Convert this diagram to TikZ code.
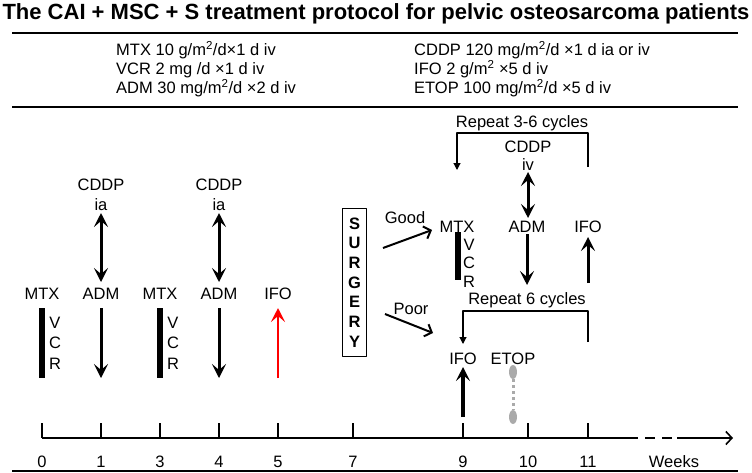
\documentclass[tikz,border=0pt]{standalone}
\usepackage{fontspec}
\setmainfont{Liberation Sans}
\usetikzlibrary{arrows.meta,positioning,shapes.geometric}
\definecolor{etopgray}{RGB}{170,170,170}
\tikzset{
  bigtip/.tip={Stealth[length=14pt,width=14pt,inset=6pt]},
  smalltip/.tip={Triangle[length=7pt,width=7pt]},
  opentip/.tip={Straight Barb[length=6pt,width=13pt]},
  rule/.style={line width=2pt},
  axisline/.style={line width=1.6pt},
  drug/.style={line width=3pt,-bigtip},
  twoway/.style={line width=3pt,bigtip-bigtip},
  vcrbar/.style={line width=6pt,line cap=butt},
  cycle/.style={line width=1.1pt,-smalltip},
  choice/.style={line width=2pt,-opentip},
  lbl/.style={inner sep=0pt},
}
\begin{document}
\begin{tikzpicture}[x=1pt,y=-1pt,line join=round,font=\fontsize{16.5}{19}\selectfont]
		\useasboundingbox (0,0) rectangle (752,472);
		\def\ya{294}
		\def\yb{227}
		% title and rules
		\node[lbl,font=\bfseries\fontsize{22}{26}\selectfont] (title) at (376,14) {The CAI + MSC + S treatment protocol for pelvic osteosarcoma patients};
		\draw[rule] (12,33) -- (738,33);
		\draw[rule] (12,107) -- (738,107);
		\draw[rule] (12,471) -- (738,471);
		\node[lbl,anchor=west,align=left] (doseL) at (116,69) {MTX 10 g/m\textsuperscript{2}/d×1 d iv\\VCR 2 mg /d ×1 d iv\\ADM 30 mg/m\textsuperscript{2}/d ×2 d iv};
		\node[lbl,anchor=west,align=left] (doseR) at (414,69) {CDDP 120 mg/m\textsuperscript{2}/d ×1 d ia or iv\\IFO 2 g/m\textsuperscript{2} ×5 d iv\\ETOP 100 mg/m\textsuperscript{2}/d ×5 d iv};
		% time axis
		\path
		(42,438) coordinate (ax0)
		(638,438) coordinate (axA)
		(677,438) coordinate (axB)
		(733,438) coordinate (axE)
		;
		\draw[axisline] (ax0) -- (axA);
		\draw[axisline,dash pattern=on 10pt off 7pt,dash phase=10pt] (axA) -- (axB);
		\draw[axisline,-opentip] (axB) -- (axE);
		\foreach \w/\x in {0/42,1/101,3/160,4/219,5/278,7/353,9/463,10/528,11/588}{
			\draw[axisline] (\x,423) -- (\x,438);
			\node[lbl] (wk\w) at (\x,462) {\w};
		}
		\node[lbl] (weeks) at (674,462) {Weeks};
		% preoperative courses
		\foreach \n/\x in {A/42,B/160}{
			\node[lbl] (mtx\n) at (\x,\ya) {MTX};
			\draw[vcrbar] (\x,308) -- (\x,378);
			\node[lbl] (v\n) at (\x+13,323) {V};
			\node[lbl] (c\n) at (\x+13,343) {C};
			\node[lbl] (r\n) at (\x+13,364) {R};
		}
		\foreach \n/\x in {A/101,B/219}{
			\node[lbl] (cddp\n) at (\x,185) {CDDP};
			\node[lbl] (ia\n) at (\x,205) {ia};
			\node[lbl] (adm\n) at (\x,\ya) {ADM};
			\coordinate (cd\n) at (\x,213);
			\coordinate (ad\n) at (\x,282);
			\coordinate (dn\n) at (\x,308);
			\coordinate (dnend\n) at (\x,378);
			\draw[twoway] (cd\n) -- (ad\n);
			\draw[drug] (dn\n) -- (dnend\n);
		}
		\node[lbl] (ifoA) at (278,\ya) {IFO};
		\coordinate (upA) at (278,378);
		\coordinate (upendA) at (278,308);
		\draw[drug,red,line width=2.4pt] (upA) -- (upendA);
		% surgery
		\node[draw,line width=0.9pt,align=center,font=\bfseries\fontsize{16.5}{19.7}\selectfont,inner xsep=6pt,inner ysep=9.5pt] (surgery) at (354.5,282.5) {S\\U\\R\\G\\E\\R\\Y};
		\path
		(383,248) coordinate (goodS)
		(432,230) coordinate (goodE)
		(385,314) coordinate (poorS)
		(433,333) coordinate (poorE)
		;
		\draw[choice] (goodS) -- (goodE);
		\draw[choice] (poorS) -- (poorE);
		\node[lbl] (good) at (405,218) {Good};
		\node[lbl] (poor) at (411,309) {Poor};
		% good responders
		\node[lbl] (rep1) at (522,123) {Repeat 3-6 cycles};
		\coordinate (rep1R) at (588,167);
		\coordinate (rep1L) at (457,170);
		\draw[cycle] (rep1R) -- ++(0,-34) -| (rep1L);
		\node[lbl] (cddpC) at (528,147) {CDDP};
		\node[lbl] (ivC) at (528,165) {iv};
		\node[lbl] (mtxC) at (457,\yb) {MTX};
		\node[lbl] (admC) at (527,\yb) {ADM};
		\node[lbl] (ifoC) at (588,\yb) {IFO};
		\draw[vcrbar] (458,232) -- (458,280);
		\node[lbl] (vC) at (469,245) {V};
		\node[lbl] (cC) at (469,263) {C};
		\node[lbl] (rC) at (469,282) {R};
		\path
		(528,172) coordinate (cdC)
		(528,218) coordinate (adC)
		(527,234) coordinate (dnC)
		(527,285) coordinate (dnendC)
		(588,283) coordinate (upC)
		(588,237) coordinate (upendC)
		;
		\draw[twoway] (cdC) -- (adC);
		\draw[drug] (dnC) -- (dnendC);
		\draw[drug] (upC) -- (upendC);
		% poor responders
		\node[lbl] (rep2) at (527,300) {Repeat 6 cycles};
		\coordinate (rep2R) at (588,342);
		\coordinate (rep2L) at (463,344);
		\draw[cycle] (rep2R) -- ++(0,-31) -| (rep2L);
		\node[lbl] (ifoD) at (463,359) {IFO};
		\node[lbl] (etop) at (513,359) {ETOP};
		\coordinate (upD) at (463,417);
		\coordinate (upendD) at (463,367);
		\draw[drug,line width=3.5pt] (upD) -- (upendD);
		\node[ellipse,fill=etopgray,inner sep=0pt,minimum width=8pt,minimum height=14pt] (etopA) at (513,372) {};
		\node[ellipse,fill=etopgray,inner sep=0pt,minimum width=8pt,minimum height=14pt] (etopB) at (513,417) {};
		\draw[etopgray,line width=3pt,dash pattern=on 3pt off 3pt] (etopA) -- (etopB);
	\end{tikzpicture}
\end{document}
